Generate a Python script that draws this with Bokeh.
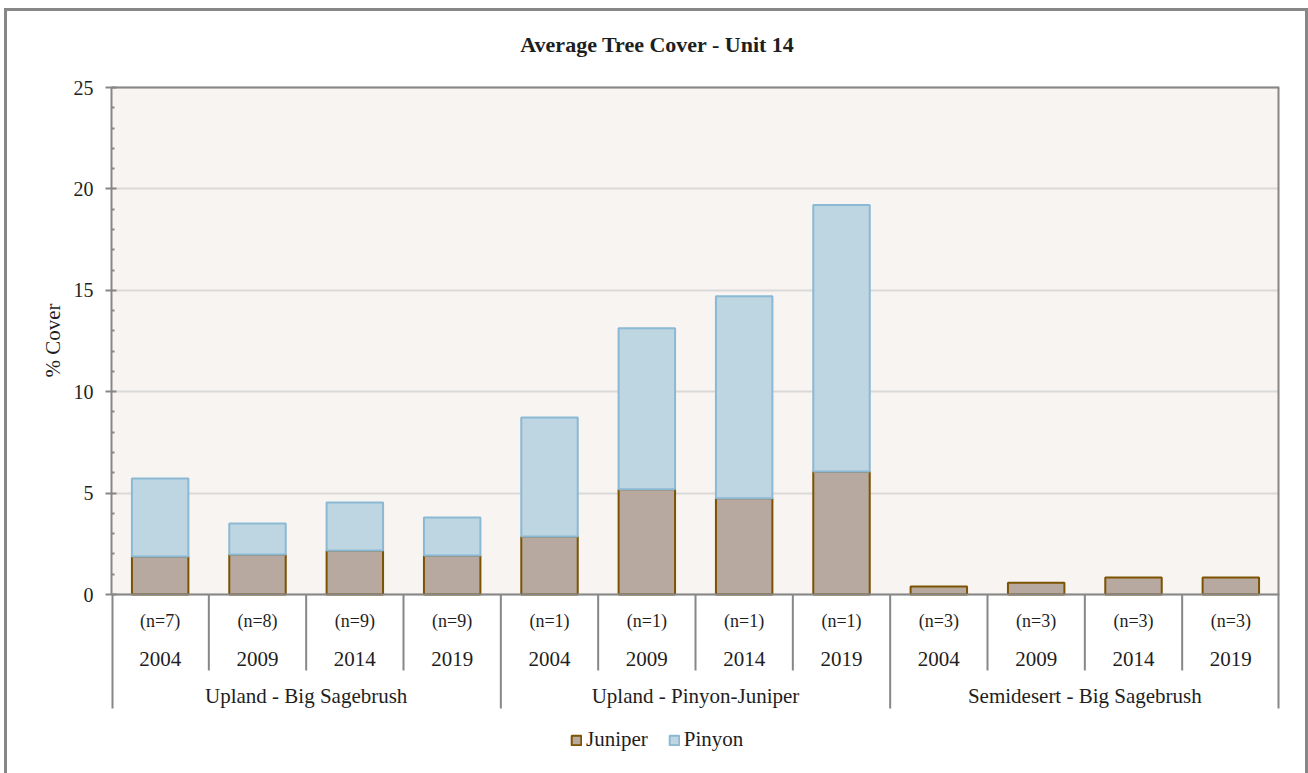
import math

from bokeh.plotting import figure
from bokeh.models import (ColumnDataSource, FactorRange, Range1d, FixedTicker, Span,
                          BoxAnnotation, Label, Legend, LegendItem, CDSView, BooleanFilter)
from bokeh.core.properties import value
from bokeh.embed import file_html
from bokeh.resources import INLINE

# ---- data -------------------------------------------------------------
groups = ["Upland - Big Sagebrush", "Upland - Pinyon-Juniper", "Semidesert - Big Sagebrush"]
years = ["2004", "2009", "2014", "2019"]
sample_sizes = ["(n=7)", "(n=8)", "(n=9)", "(n=9)",
                "(n=1)", "(n=1)", "(n=1)", "(n=1)",
                "(n=3)", "(n=3)", "(n=3)", "(n=3)"]
juniper = [1.87, 1.97, 2.17, 1.92,
           2.86, 5.19, 4.75, 6.07,
           0.39, 0.58, 0.84, 0.84]
pinyon = [3.85, 1.53, 2.37, 1.88,
          5.87, 7.94, 9.96, 13.13,
          0.0, 0.0, 0.0, 0.0]
y_ticks = [0, 5, 10, 15, 20, 25]

# ---- styling ----------------------------------------------------------
FONT = "Liberation Serif"
TEXT = "#1e1e1e"
AXIS = "#878787"
JUN_FILL, JUN_LINE = "#b7a99f", "#7d5200"
PIN_FILL, PIN_LINE = "#bed5e2", "#8bb9d4"
Y_MAX = 25
PX_PER_UNIT = 507 / Y_MAX          # plot area is 507 px tall
Y_TOP = Y_MAX + 87 / PX_PER_UNIT   # headroom for the title
Y_BOTTOM = -179 / PX_PER_UNIT      # room for category rows and legend
SEP_LONG = -114 / PX_PER_UNIT
SEP_SHORT = -76 / PX_PER_UNIT

factors = [(g, y) for g in groups for y in years]
totals = [j + q for j, q in zip(juniper, pinyon)]

src = ColumnDataSource(dict(x=factors, juniper=juniper, pinyon=pinyon,
                            total=totals, n=sample_sizes,
                            year=[f[1] for f in factors]))

p = figure(width=1308, height=773, title=None,
           x_range=FactorRange(*factors, range_padding=0, factor_padding=0,
                               group_padding=0, subgroup_padding=0),
           y_range=Range1d(Y_BOTTOM, Y_TOP),
           output_backend="svg", toolbar_location=None, x_axis_location=None,
           min_border_left=111, min_border_right=29, min_border_top=0,
           min_border_bottom=0, background_fill_alpha=0,
           border_fill_alpha=0, outline_line_color=None)

# outer chart frame (left, top and right edges)
p.styles = {"box-shadow": "inset 4px 8px 0 0 #ffffff, inset 7px 11px 0 0 #878787, "
                          "inset -3px 0 0 0 #878787"}

# plot area fill
p.add_layout(BoxAnnotation(bottom=0, top=Y_MAX, fill_color="#f7f4f1", fill_alpha=1,
                           line_color=None, level="image"))
p.add_layout(Span(location=Y_MAX, dimension="width", line_color=AXIS, line_width=2))
p.add_layout(Span(location=0, dimension="width", line_color=AXIS, line_width=2))

# grid
p.xgrid.visible = False
p.ygrid.ticker = FixedTicker(ticks=y_ticks)
p.ygrid.grid_line_color = "#d9d9d9"
p.ygrid.grid_line_width = 2

# y axis
minor = [v for v in range(0, Y_MAX + 1) if v not in y_ticks]
p.yaxis.ticker = FixedTicker(ticks=y_ticks, minor_ticks=minor)
p.yaxis.bounds = (0, Y_MAX)
p.yaxis.axis_line_color = AXIS
p.yaxis.axis_line_width = 2
p.yaxis.major_tick_line_color = AXIS
p.yaxis.major_tick_line_width = 2
p.yaxis.major_tick_out = 6
p.yaxis.major_tick_in = 5
p.yaxis.minor_tick_line_color = AXIS
p.yaxis.minor_tick_line_width = 2
p.yaxis.minor_tick_in = 3
p.yaxis.minor_tick_out = 0
p.yaxis.major_label_text_font = FONT
p.yaxis.major_label_text_font_size = "20px"
p.yaxis.major_label_text_color = TEXT
p.yaxis.major_label_standoff = 12

# y axis title, centred on the 0-25 plot area
p.add_layout(Label(x=52, y=340, x_units="canvas", y_units="canvas", text="% Cover",
                   angle=math.pi / 2, text_align="center", text_baseline="middle",
                   text_font=FONT, text_font_size="21px", text_color=TEXT), "left")

# stacked bars
rj = p.vbar(x="x", bottom=0, top="juniper", width=0.58, source=src,
            fill_color=JUN_FILL, line_color=JUN_LINE, line_width=2)
pin_view = CDSView(filter=BooleanFilter([v > 0 for v in pinyon]))
rp = p.vbar(x="x", bottom="juniper", top="total", width=0.58, source=src, view=pin_view,
            fill_color=PIN_FILL, line_color=PIN_LINE, line_width=2)

# category separators below the axis, plus the frame's left/right edges
sep_x, sep_y0, sep_y1, sep_w = [], [], [], []
for gi, g in enumerate(groups):
    for yi, y in enumerate(years):
        sep_x.append((g, y, -0.5))
        sep_y0.append(0)
        sep_y1.append(SEP_LONG if yi == 0 else SEP_SHORT)
        sep_w.append(4 if (gi == 0 and yi == 0) else 2)
sep_x.append((groups[-1], years[-1], 0.5))
sep_y0.append(Y_MAX)
sep_y1.append(SEP_LONG)
sep_w.append(4)
p.segment(x0=sep_x, x1=sep_x, y0=sep_y0, y1=sep_y1,
          line_color=AXIS, line_width=sep_w)

# category labels
text_kw = dict(text_font=value(FONT), text_color=TEXT,
               text_align="center", text_baseline="middle")
p.text(x="x", y=-26 / PX_PER_UNIT, text="n", source=src,
       text_font_size="18px", **text_kw)
p.text(x="x", y=-64 / PX_PER_UNIT, text="year", source=src,
       text_font_size="21px", **text_kw)
gsrc = ColumnDataSource(dict(x=groups, label=groups))
p.text(x="x", y=-101 / PX_PER_UNIT, text="label", source=gsrc,
       text_font_size="21px", **text_kw)

# title
p.add_layout(Label(x=657, y=44, x_units="canvas", y_units="canvas",
                   text="Average Tree Cover - Unit 14", text_align="center",
                   text_baseline="middle", text_font=FONT, text_font_size="22px",
                   text_font_style="bold", text_color=TEXT))

# legend
legend = Legend(items=[LegendItem(label="Juniper", renderers=[rj]),
                       LegendItem(label="Pinyon", renderers=[rp])],
                orientation="horizontal", location=(459, 21), padding=0, margin=0,
                spacing=20, glyph_width=12, glyph_height=12, label_standoff=4,
                label_text_font=FONT, label_text_font_size="21px",
                label_text_color=TEXT, border_line_color=None,
                background_fill_alpha=0)
p.add_layout(legend)

open("out.html", "w").write(file_html(p, INLINE))
